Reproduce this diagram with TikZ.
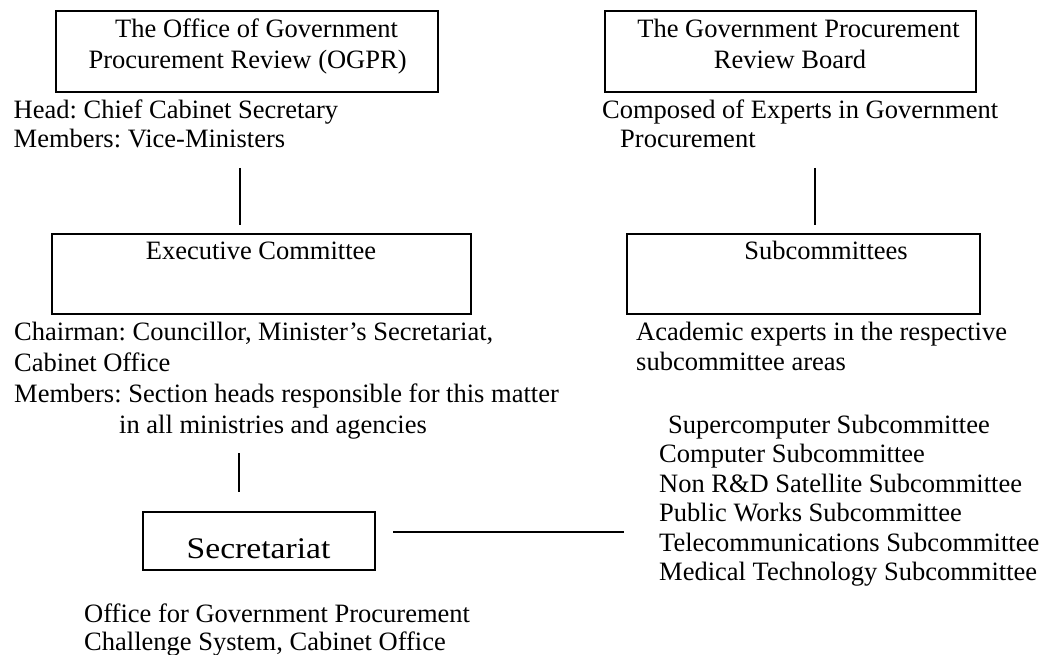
\documentclass[tikz,border=0pt]{standalone}
\usepackage{fontspec}
\setmainfont{Liberation Serif}[Ligatures={TeX,NoCommon}]
\newfontfamily\secfont{Liberation Serif}[FakeStretch=1.12,Ligatures={TeX,NoCommon}]
\begin{document}
\frenchspacing
\begin{tikzpicture}[x=1pt,y=-1pt,
  frame/.style={draw, line width=1.8pt, inner sep=0pt},
  link/.style={line width=1.4pt},
  txt/.style={inner sep=0pt, font=\fontsize{26.5}{30}\selectfont},
  block/.style={txt, anchor=north west, align=left},
]
\useasboundingbox (0,0) rectangle (1047,655);

% boxes
\node[frame, minimum width=382pt, minimum height=81pt] (ogpr) at (247,51.5) {};
\node[frame, minimum width=371pt, minimum height=81pt] (board) at (790.5,51.5) {};
\node[frame, minimum width=419pt, minimum height=80pt] (exec) at (261.5,274) {};
\node[frame, minimum width=353pt, minimum height=80pt] (sub) at (803.5,274) {};
\node[frame, minimum width=232pt, minimum height=58pt] (sec) at (259,541) {};

% box texts
\node[txt, anchor=north, align=center, font=\fontsize{26.5}{31}\selectfont] (ogprt) at (247.6,18.9)
  {\hspace*{18pt}The Office of Government\\Procurement Review (OGPR)};
\node[txt, anchor=north, align=center, font=\fontsize{26.5}{31}\selectfont] (boardt) at (790,18.9)
  {\hspace*{17pt}The Government Procurement\\Review Board};
\node[txt, anchor=base] (exect) at (261,260) {Executive Committee};
\node[txt, anchor=base] (subt) at (826,260) {Subcommittees};
\node[txt, anchor=base, font=\secfont\fontsize{30}{30}\selectfont] (sect) at (258.5,558) {Secretariat};

% descriptive texts
\node[block, font=\fontsize{26.5}{29}\selectfont] (head) at (13.5,99.9)
  {Head: Chief Cabinet Secretary\\Members: Vice-Ministers};
\node[block, font=\fontsize{26.5}{29}\selectfont] (composed) at (602,99.9)
  {Composed of Experts in Government\\\hspace*{18pt}Procurement};
\node[block, font=\fontsize{26.5}{31}\selectfont] (chair) at (14,321.9)
  {Chairman: Councillor, Minister’s Secretariat,\\Cabinet Office\\Members: Section heads responsible for this matter\\\hspace*{105pt}in all ministries and agencies};
\node[block, font=\fontsize{26.5}{30}\selectfont] (academic) at (636,321.9)
  {Academic experts in the respective\\subcommittee areas};
\node[block, font=\fontsize{26.5}{29.5}\selectfont] (list) at (659,414.9)
  {\hspace*{9pt}Supercomputer Subcommittee\\Computer Subcommittee\\Non R\&D Satellite Subcommittee\\Public Works Subcommittee\\Telecommunications Subcommittee\\Medical Technology Subcommittee};
\node[block, font=\fontsize{26.5}{28}\selectfont] (office) at (84,603.9)
  {Office for Government Procurement\\Challenge System, Cabinet Office};

% connectors (free-standing lines)
\coordinate (v1a) at (240,168); \coordinate (v1b) at (240,225);
\coordinate (v2a) at (815,168); \coordinate (v2b) at (815,225);
\coordinate (v3a) at (239,453); \coordinate (v3b) at (239,492);
\coordinate (h1a) at (393,532); \coordinate (h1b) at (624,532);
\draw[link] (v1a) -- (v1b);
\draw[link] (v2a) -- (v2b);
\draw[link] (v3a) -- (v3b);
\draw[link] (h1a) -- (h1b);
\end{tikzpicture}
\end{document}
